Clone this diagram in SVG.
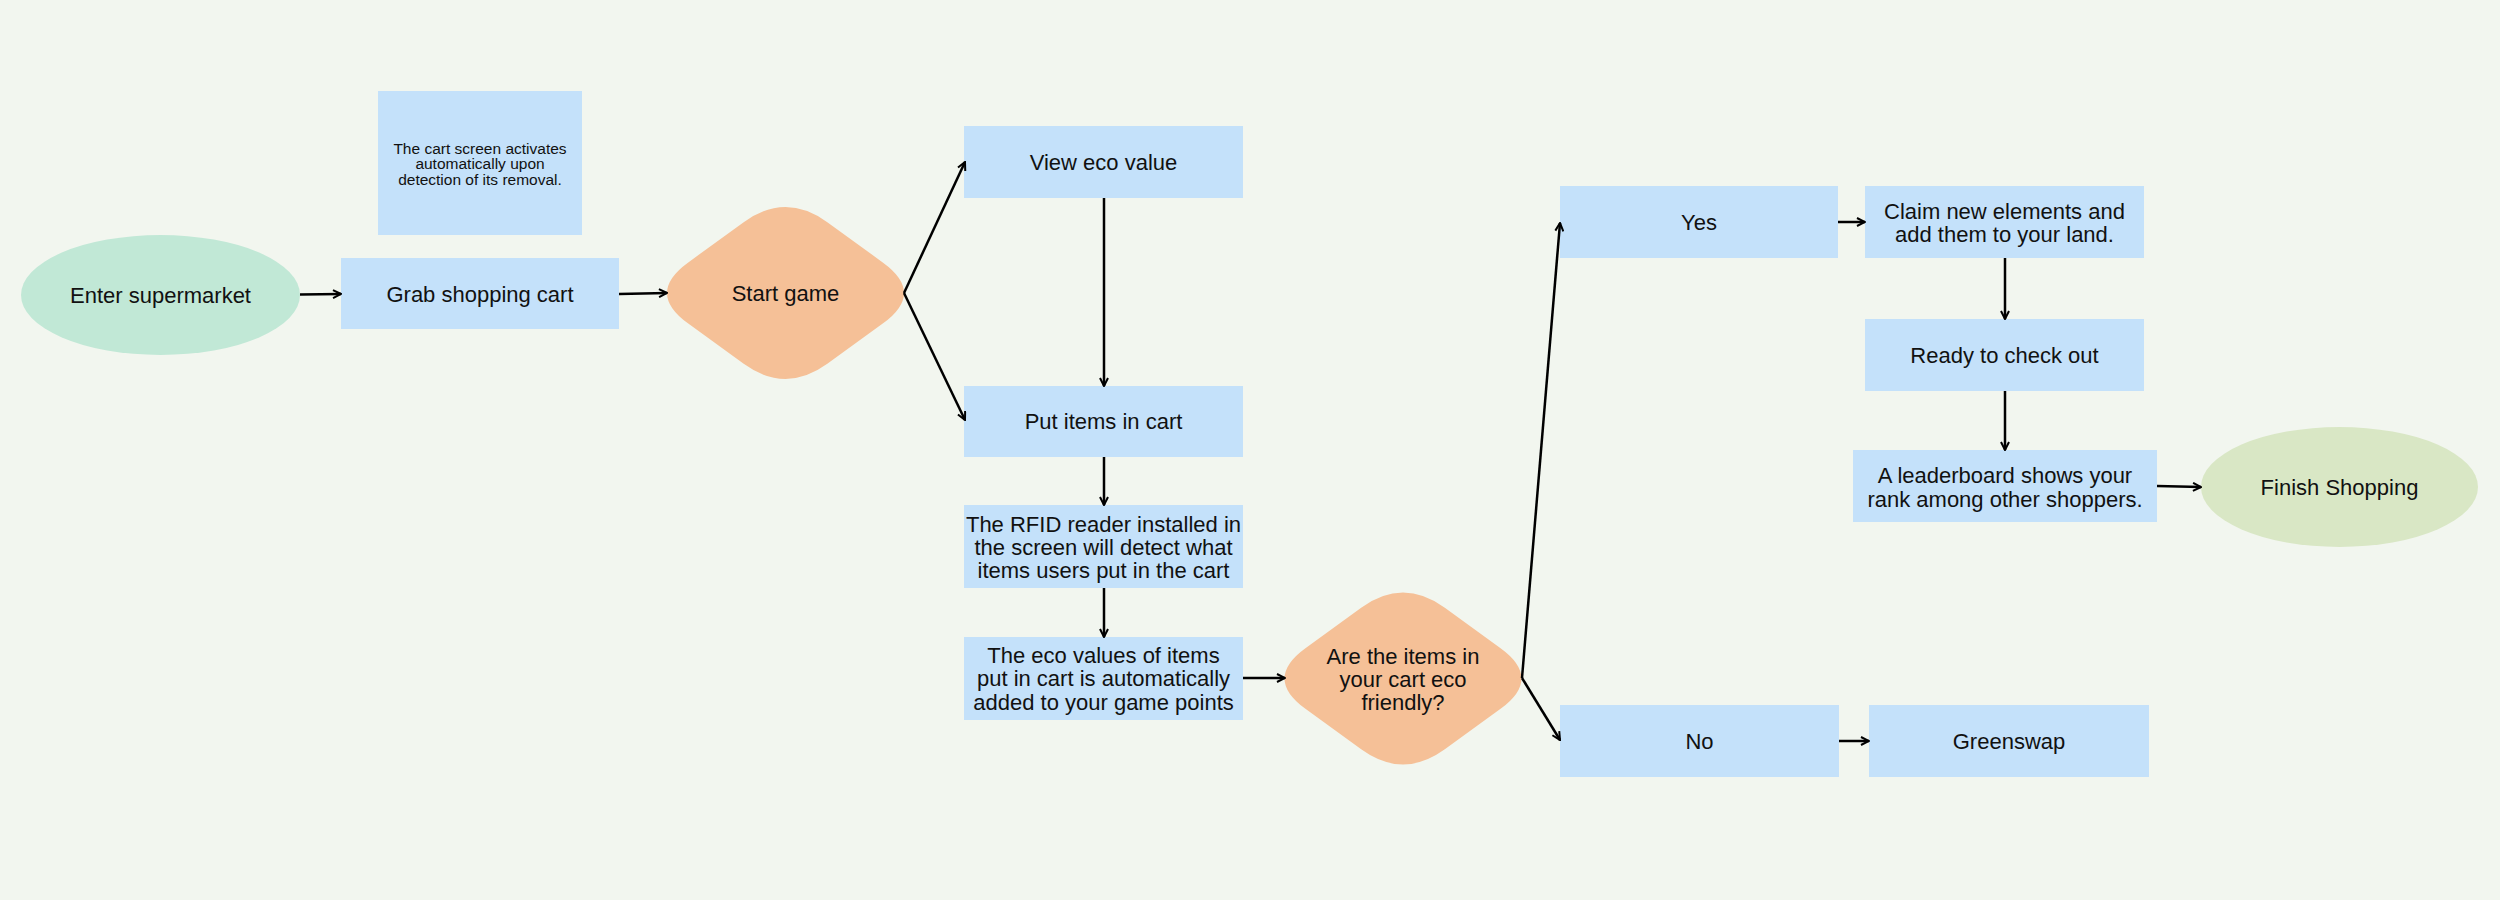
<svg xmlns="http://www.w3.org/2000/svg" width="2500" height="900" viewBox="0 0 2500 900">
<defs>
<style>
.box{fill:#c4e1fa;}
.t{font-family:"Liberation Sans",Arial,sans-serif;font-size:22px;fill:#111;text-anchor:middle;dominant-baseline:central;}
.small{font-size:15.5px;}
.dia{fill:#f5c097;}
.con line{stroke:#000;stroke-width:2.5;marker-end:url(#arr);}
</style>
<marker id="arr" viewBox="0 0 10 10" refX="9" refY="5" markerWidth="10" markerHeight="10" markerUnits="userSpaceOnUse" orient="auto">
<path d="M1,1 L9,5 L1,9" fill="none" stroke="#000" stroke-width="2"/>
</marker>
<path id="diamond" d="M -41.82 -70.84 Q 0 -101.2 41.82 -70.84 L 97.58 -30.36 Q 139.4 0 97.58 30.36 L 41.82 70.84 Q 0 101.2 -41.82 70.84 L -97.58 30.36 Q -139.4 0 -97.58 -30.36 Z"/>
</defs>
<rect x="0" y="0" width="2500" height="900" fill="#f2f6ef"/>

<g id="note">
<rect class="box" x="378" y="91" width="204" height="144"/>
<text class="t small" x="480" y="148">The cart screen activates</text>
<text class="t small" x="480" y="163.5">automatically upon</text>
<text class="t small" x="480" y="179">detection of its removal.</text>
</g>

<g id="enter">
<ellipse cx="160.5" cy="295" rx="139.5" ry="60" fill="#c1e8d6"/>
<text class="t" x="160.5" y="295">Enter supermarket</text>
</g>

<g id="grab">
<rect class="box" x="341" y="258" width="278" height="71"/>
<text class="t" x="480" y="294">Grab shopping cart</text>
</g>

<g id="start">
<use href="#diamond" class="dia" transform="translate(785.5,293)"/>
<text class="t" x="785.5" y="293">Start game</text>
</g>

<g id="view">
<rect class="box" x="964" y="126" width="279" height="72"/>
<text class="t" x="1103.5" y="162">View eco value</text>
</g>

<g id="put">
<rect class="box" x="964" y="386" width="279" height="71"/>
<text class="t" x="1103.5" y="421">Put items in cart</text>
</g>

<g id="rfid">
<rect class="box" x="964" y="505" width="279" height="83"/>
<text class="t" x="1103.5" y="524">The RFID reader installed in</text>
<text class="t" x="1103.5" y="547">the screen will detect what</text>
<text class="t" x="1103.5" y="570">items users put in the cart</text>
</g>

<g id="eco">
<rect class="box" x="964" y="637" width="279" height="83"/>
<text class="t" x="1103.5" y="655">The eco values of items</text>
<text class="t" x="1103.5" y="678.5">put in cart is automatically</text>
<text class="t" x="1103.5" y="702">added to your game points</text>
</g>

<g id="decision">
<use href="#diamond" class="dia" transform="translate(1403,678.5)"/>
<text class="t" x="1403" y="656">Are the items in</text>
<text class="t" x="1403" y="679">your cart eco</text>
<text class="t" x="1403" y="702">friendly?</text>
</g>

<g id="yes">
<rect class="box" x="1560" y="186" width="278" height="72"/>
<text class="t" x="1699" y="222">Yes</text>
</g>

<g id="claim">
<rect class="box" x="1865" y="186" width="279" height="72"/>
<text class="t" x="2004.5" y="211">Claim new elements and</text>
<text class="t" x="2004.5" y="234">add them to your land.</text>
</g>

<g id="ready">
<rect class="box" x="1865" y="319" width="279" height="72"/>
<text class="t" x="2004.5" y="355">Ready to check out</text>
</g>

<g id="leaderboard">
<rect class="box" x="1853" y="450" width="304" height="72"/>
<text class="t" x="2005" y="475">A leaderboard shows your</text>
<text class="t" x="2005" y="499">rank among other shoppers.</text>
</g>

<g id="finish">
<ellipse cx="2339.5" cy="487" rx="138.5" ry="60" fill="#d9e7c5"/>
<text class="t" x="2339.5" y="487">Finish Shopping</text>
</g>

<g id="no">
<rect class="box" x="1560" y="705" width="279" height="72"/>
<text class="t" x="1699.5" y="741">No</text>
</g>

<g id="greenswap">
<rect class="box" x="1869" y="705" width="280" height="72"/>
<text class="t" x="2009" y="741">Greenswap</text>
</g>

<g id="connectors" class="con">
<line x1="300" y1="294.5" x2="341" y2="294"/>
<line x1="619" y1="294" x2="667" y2="293"/>
<line x1="904" y1="293" x2="965" y2="162"/>
<line x1="904" y1="293" x2="965" y2="420"/>
<line x1="1104" y1="198" x2="1104" y2="386"/>
<line x1="1104" y1="457" x2="1104" y2="505"/>
<line x1="1104" y1="588" x2="1104" y2="637"/>
<line x1="1243" y1="678" x2="1285" y2="678"/>
<line x1="1522" y1="678" x2="1560" y2="223"/>
<line x1="1522" y1="678" x2="1560" y2="740"/>
<line x1="1838" y1="222" x2="1865" y2="222"/>
<line x1="2005" y1="258" x2="2005" y2="319"/>
<line x1="2005" y1="391" x2="2005" y2="450"/>
<line x1="2157" y1="486" x2="2201" y2="487"/>
<line x1="1839" y1="741" x2="1869" y2="741"/>
</g>
</svg>
